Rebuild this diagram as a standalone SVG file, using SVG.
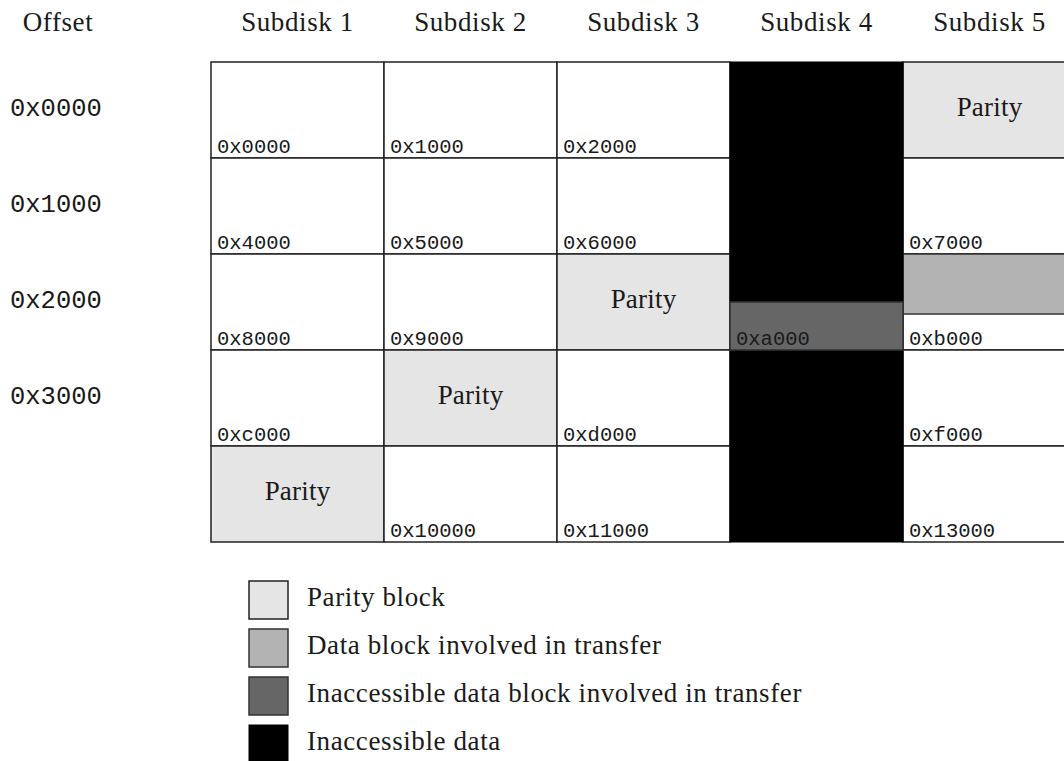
<svg xmlns="http://www.w3.org/2000/svg" width="1064" height="761" viewBox="0 0 1064 761">
  <style>
    .hdr { font-family: "Liberation Serif", "DejaVu Serif", serif; font-size: 27px; fill: #1a1a1a; letter-spacing: 0.6px; }
    .par { font-family: "Liberation Serif", "DejaVu Serif", serif; font-size: 27px; fill: #1a1a1a; text-anchor: middle; letter-spacing: 0.2px; }
    .off { font-family: "Liberation Mono", "DejaVu Sans Mono", monospace; font-size: 25.5px; fill: #1a1a1a; }
    .adr { font-family: "Liberation Mono", "DejaVu Sans Mono", monospace; font-size: 20.5px; fill: #1a1a1a; }
    .cell { fill: #ffffff; stroke: #222222; stroke-width: 1.5; }
    .parity { fill: #e5e5e5; stroke: #222222; stroke-width: 1.5; }
    .xfer { fill: #b3b3b3; stroke: #333333; stroke-width: 1.5; }
    .lost-xfer { fill: #666666; stroke: #333333; stroke-width: 1.5; }
    .lost { fill: #000000; stroke: #000000; stroke-width: 1; }
  </style>

  <!-- column headings -->
  <g id="headings">
    <text class="hdr" x="58" y="31" text-anchor="middle">Offset</text>
    <text class="hdr" x="297.5" y="31" text-anchor="middle">Subdisk 1</text>
    <text class="hdr" x="470.5" y="31" text-anchor="middle">Subdisk 2</text>
    <text class="hdr" x="643.5" y="31" text-anchor="middle">Subdisk 3</text>
    <text class="hdr" x="816.5" y="31" text-anchor="middle">Subdisk 4</text>
    <text class="hdr" x="989.5" y="31" text-anchor="middle">Subdisk 5</text>
  </g>

  <!-- row offsets -->
  <g id="offsets">
    <text class="off" x="10" y="116">0x0000</text>
    <text class="off" x="10" y="212">0x1000</text>
    <text class="off" x="10" y="308">0x2000</text>
    <text class="off" x="10" y="404">0x3000</text>
  </g>

  <!-- row 1 -->
  <g id="r1c1"><rect class="cell" x="211" y="62" width="173" height="96"/><text class="adr" x="217" y="153">0x0000</text></g>
  <g id="r1c2"><rect class="cell" x="384" y="62" width="173" height="96"/><text class="adr" x="390" y="153">0x1000</text></g>
  <g id="r1c3"><rect class="cell" x="557" y="62" width="173" height="96"/><text class="adr" x="563" y="153">0x2000</text></g>
  <g id="r1c5"><rect class="parity" x="903" y="62" width="173" height="96"/><text class="par" x="989.5" y="116">Parity</text></g>

  <!-- row 2 -->
  <g id="r2c1"><rect class="cell" x="211" y="158" width="173" height="96"/><text class="adr" x="217" y="249">0x4000</text></g>
  <g id="r2c2"><rect class="cell" x="384" y="158" width="173" height="96"/><text class="adr" x="390" y="249">0x5000</text></g>
  <g id="r2c3"><rect class="cell" x="557" y="158" width="173" height="96"/><text class="adr" x="563" y="249">0x6000</text></g>
  <g id="r2c5"><rect class="cell" x="903" y="158" width="173" height="96"/><text class="adr" x="909" y="249">0x7000</text></g>

  <!-- row 3 -->
  <g id="r3c1"><rect class="cell" x="211" y="254" width="173" height="96"/><text class="adr" x="217" y="345">0x8000</text></g>
  <g id="r3c2"><rect class="cell" x="384" y="254" width="173" height="96"/><text class="adr" x="390" y="345">0x9000</text></g>
  <g id="r3c3"><rect class="parity" x="557" y="254" width="173" height="96"/><text class="par" x="643.5" y="308">Parity</text></g>
  <g id="r3c5">
    <rect class="cell" x="903" y="254" width="173" height="96"/>
    <rect class="xfer" x="903" y="254" width="173" height="60"/>
    <text class="adr" x="909" y="345">0xb000</text>
  </g>

  <!-- row 4 -->
  <g id="r4c1"><rect class="cell" x="211" y="350" width="173" height="96"/><text class="adr" x="217" y="441">0xc000</text></g>
  <g id="r4c2"><rect class="parity" x="384" y="350" width="173" height="96"/><text class="par" x="470.5" y="404">Parity</text></g>
  <g id="r4c3"><rect class="cell" x="557" y="350" width="173" height="96"/><text class="adr" x="563" y="441">0xd000</text></g>
  <g id="r4c5"><rect class="cell" x="903" y="350" width="173" height="96"/><text class="adr" x="909" y="441">0xf000</text></g>

  <!-- row 5 -->
  <g id="r5c1"><rect class="parity" x="211" y="446" width="173" height="96"/><text class="par" x="297.5" y="500">Parity</text></g>
  <g id="r5c2"><rect class="cell" x="384" y="446" width="173" height="96"/><text class="adr" x="390" y="537">0x10000</text></g>
  <g id="r5c3"><rect class="cell" x="557" y="446" width="173" height="96"/><text class="adr" x="563" y="537">0x11000</text></g>
  <g id="r5c5"><rect class="cell" x="903" y="446" width="173" height="96"/><text class="adr" x="909" y="537">0x13000</text></g>

  <!-- failed subdisk 4 -->
  <g id="subdisk4">
    <rect class="lost" x="730" y="62" width="173" height="480"/>
    <rect class="lost-xfer" x="730" y="302" width="173" height="48"/>
    <text class="adr" x="736" y="345">0xa000</text>
  </g>

  <!-- legend -->
  <g id="legend-parity">
    <rect class="parity" x="249" y="581" width="39" height="38"/>
    <text class="hdr" x="307" y="606">Parity block</text>
  </g>
  <g id="legend-xfer">
    <rect class="xfer" x="249" y="629" width="39" height="38"/>
    <text class="hdr" x="307" y="654">Data block involved in transfer</text>
  </g>
  <g id="legend-lost-xfer">
    <rect class="lost-xfer" x="249" y="677" width="39" height="38"/>
    <text class="hdr" x="307" y="702">Inaccessible data block involved in transfer</text>
  </g>
  <g id="legend-lost">
    <rect class="lost" x="249" y="725" width="39" height="38"/>
    <text class="hdr" x="307" y="750">Inaccessible data</text>
  </g>

  <g id="connectors"/>
</svg>
